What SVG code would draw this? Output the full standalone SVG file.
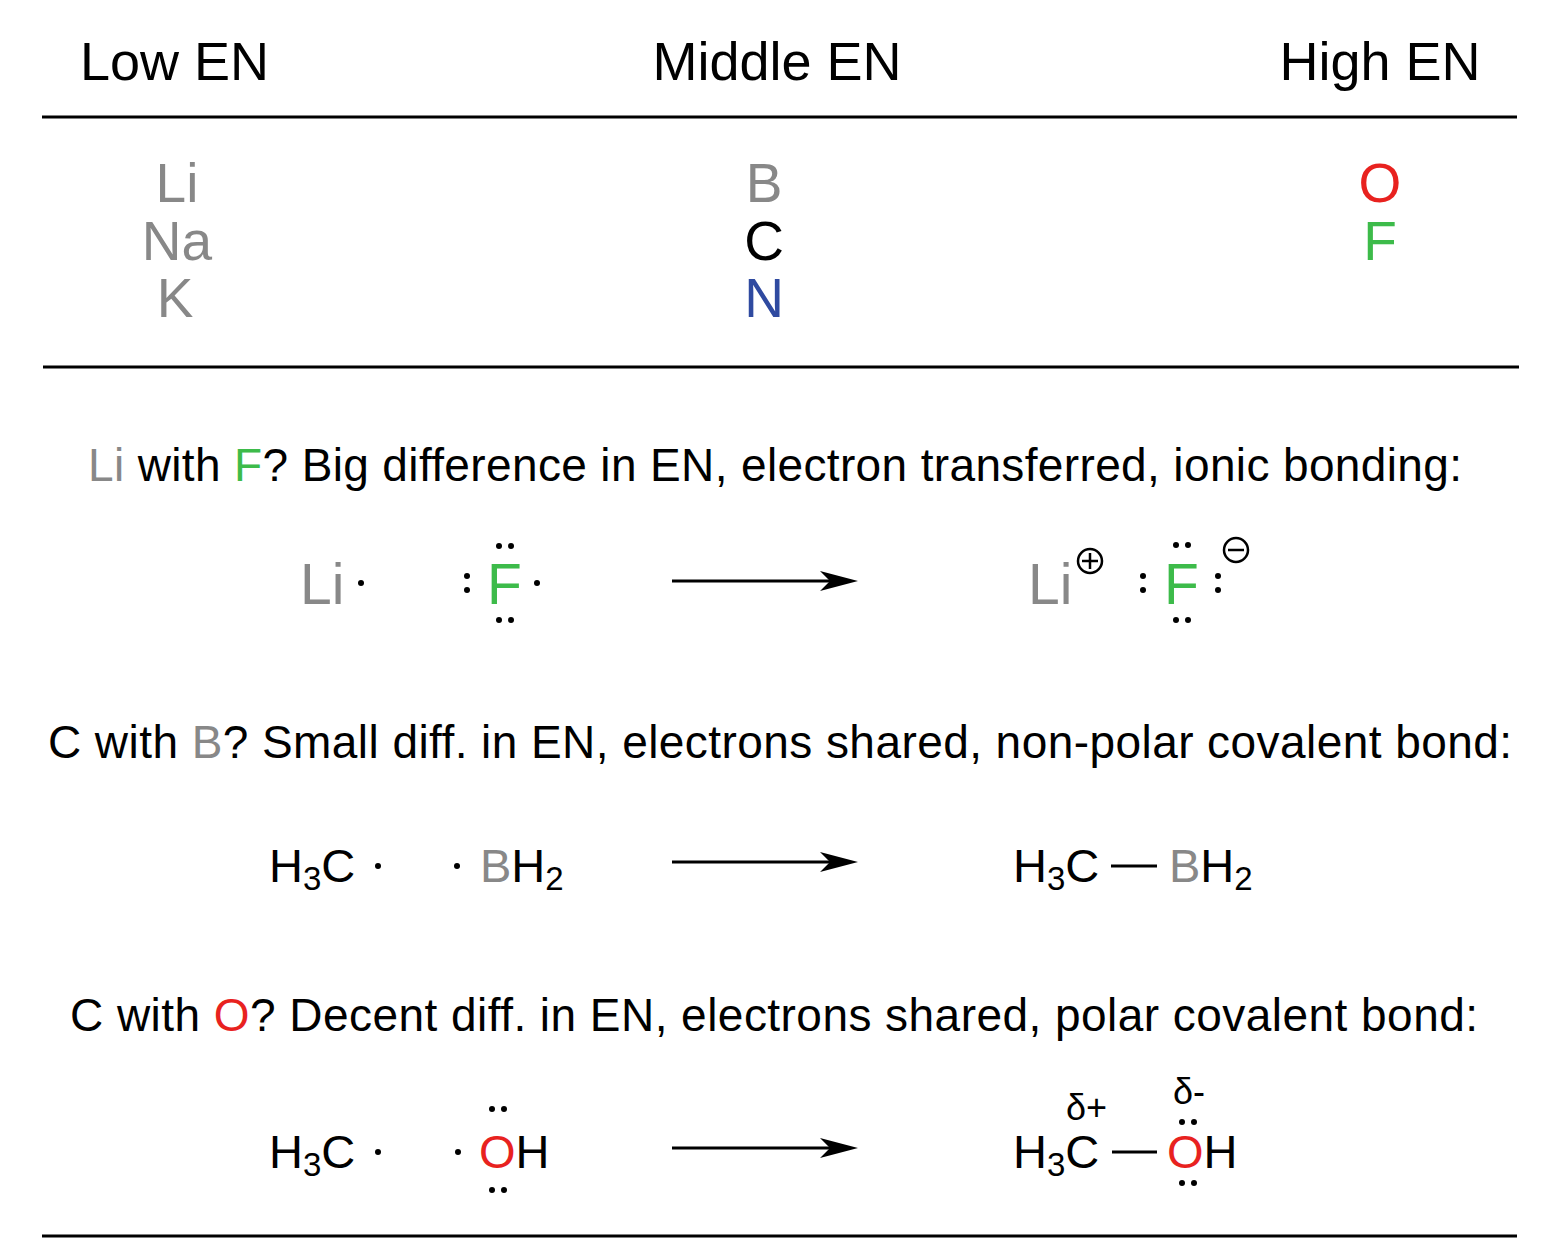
<svg xmlns="http://www.w3.org/2000/svg" width="1557" height="1255" viewBox="0 0 1557 1255">
<style>
text{font-family:"Liberation Sans",Arial,sans-serif;fill:#000}
.h{font-size:54px}.e{font-size:55px}.s{font-size:46px}.r{font-size:57px}.m{font-size:47px}.d{font-size:36px}
.g{fill:#888}.gr{fill:#3dbb4a}.rd{fill:#e8221f}.bl{fill:#2f4aa0}
.rule{stroke:#000;stroke-width:3}
.arr{stroke:#000;stroke-width:3}
</style>
<defs><path id="head" d="M0,0 L-38,-10 L-28,0 L-38,10 Z"/></defs>
<rect width="1557" height="1255" fill="#fff"/>
<g id="header">
<text class="h" x="80" y="80">Low EN</text>
<text class="h" x="777" y="80" text-anchor="middle">Middle EN</text>
<text class="h" x="1380" y="80" text-anchor="middle">High EN</text>
</g>
<g id="rules">
<line class="rule" x1="42" y1="117" x2="1517" y2="117"/>
<line class="rule" x1="43" y1="367" x2="1519" y2="367"/>
<line class="rule" x1="42" y1="1236" x2="1517" y2="1236"/>
</g>
<g id="elements">
<text class="e g" x="177" y="202" text-anchor="middle">Li</text>
<text class="e g" x="177" y="260" text-anchor="middle">Na</text>
<text class="e g" x="175" y="317" text-anchor="middle">K</text>
<text class="e g" x="764" y="202" text-anchor="middle">B</text>
<text class="e" x="764" y="260" text-anchor="middle">C</text>
<text class="e bl" x="764" y="317" text-anchor="middle">N</text>
<text class="e rd" x="1380" y="202" text-anchor="middle">O</text>
<text class="e gr" x="1380" y="260" text-anchor="middle">F</text>
</g>
<g id="sentences">
<text class="s" x="88" y="481" textLength="1374" lengthAdjust="spacing"><tspan class="g">Li</tspan> with <tspan class="gr">F</tspan>? Big difference in EN, electron transferred, ionic bonding:</text>
<text class="s" x="48" y="758" textLength="1464" lengthAdjust="spacing">C with <tspan class="g">B</tspan>? Small diff. in EN, electrons shared, non-polar covalent bond:</text>
<text class="s" x="70" y="1031" textLength="1408" lengthAdjust="spacing">C with <tspan class="rd">O</tspan>? Decent diff. in EN, electrons shared, polar covalent bond:</text>
</g>
<g id="connectors">
<line class="arr" x1="672" y1="581" x2="835" y2="581"/><use href="#head" x="858" y="581"/>
<line class="arr" x1="672" y1="862" x2="835" y2="862"/><use href="#head" x="858" y="862"/>
<line class="arr" x1="672" y1="1148" x2="835" y2="1148"/><use href="#head" x="858" y="1148"/>
</g>
<g id="reaction1">
<text class="r g" x="300" y="604">Li</text>
<circle cx="361" cy="583" r="3"/>
<text class="r gr" x="487" y="604">F</text>
<circle cx="467" cy="576" r="3"/><circle cx="467" cy="590" r="3"/>
<circle cx="499" cy="546" r="3"/><circle cx="511" cy="546" r="3"/>
<circle cx="499" cy="620" r="3"/><circle cx="511" cy="620" r="3"/>
<circle cx="537" cy="583" r="3"/>
<text class="r g" x="1028" y="604">Li</text>
<circle cx="1090" cy="561" r="12" fill="none" stroke="#000" stroke-width="2.5"/>
<line x1="1082" y1="561" x2="1098" y2="561" stroke="#000" stroke-width="2.5"/><line x1="1090" y1="553" x2="1090" y2="569" stroke="#000" stroke-width="2.5"/>
<text class="r gr" x="1164" y="604">F</text>
<circle cx="1143" cy="576" r="3"/><circle cx="1143" cy="590" r="3"/>
<circle cx="1176" cy="545" r="3"/><circle cx="1188" cy="545" r="3"/>
<circle cx="1176" cy="620" r="3"/><circle cx="1188" cy="620" r="3"/>
<circle cx="1218" cy="576" r="3"/><circle cx="1218" cy="590" r="3"/>
<circle cx="1236" cy="550" r="12" fill="none" stroke="#000" stroke-width="2.5"/>
<line x1="1228" y1="550" x2="1244" y2="550" stroke="#000" stroke-width="2.5"/>
</g>
<g id="reaction2">
<text class="m" x="269" y="882">H<tspan font-size="33" dy="8">3</tspan><tspan dy="-8">C</tspan></text>
<circle cx="378" cy="866" r="3"/>
<circle cx="457" cy="866" r="3"/>
<text class="m" x="480" y="882"><tspan class="g">B</tspan>H<tspan font-size="33" dy="8">2</tspan></text>
<text class="m" x="1013" y="882">H<tspan font-size="33" dy="8">3</tspan><tspan dy="-8">C</tspan></text>
<line x1="1111" y1="866" x2="1157" y2="866" stroke="#000" stroke-width="3"/>
<text class="m" x="1169" y="882"><tspan class="g">B</tspan>H<tspan font-size="33" dy="8">2</tspan></text>
</g>
<g id="reaction3">
<text class="m" x="269" y="1168">H<tspan font-size="33" dy="8">3</tspan><tspan dy="-8">C</tspan></text>
<circle cx="378" cy="1152" r="3"/>
<circle cx="458" cy="1152" r="3"/>
<text class="m" x="479" y="1168"><tspan class="rd">O</tspan>H</text>
<circle cx="492" cy="1109" r="3"/><circle cx="504" cy="1109" r="3"/>
<circle cx="492" cy="1190" r="3"/><circle cx="504" cy="1190" r="3"/>
<text class="m" x="1013" y="1168">H<tspan font-size="33" dy="8">3</tspan><tspan dy="-8">C</tspan></text>
<line x1="1112" y1="1152" x2="1157" y2="1152" stroke="#000" stroke-width="3"/>
<text class="m" x="1167" y="1168"><tspan class="rd">O</tspan>H</text>
<circle cx="1182" cy="1122" r="3"/><circle cx="1194" cy="1122" r="3"/>
<circle cx="1182" cy="1183" r="3"/><circle cx="1194" cy="1183" r="3"/>
<text class="d" x="1066" y="1120">δ+</text>
<text class="d" x="1173" y="1104">δ-</text>
</g>
</svg>
